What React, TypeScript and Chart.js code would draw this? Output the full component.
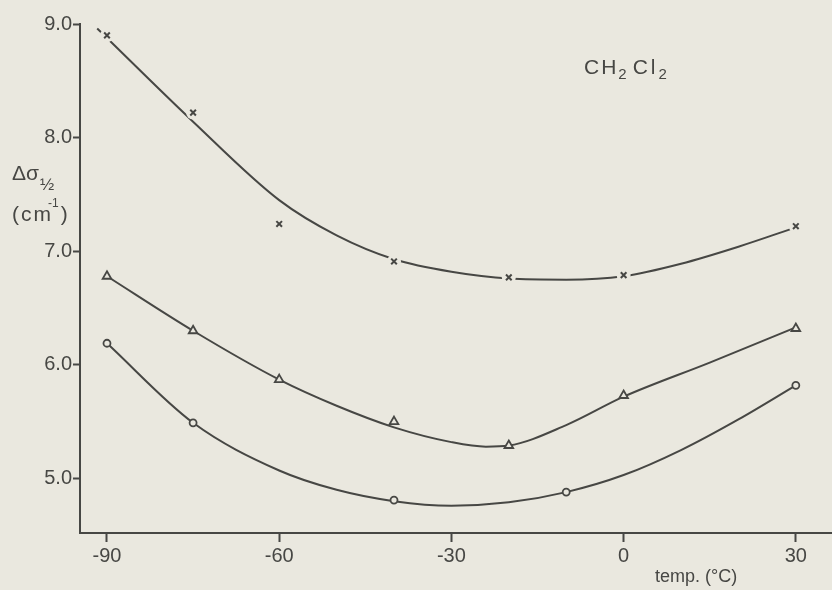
import React, { useEffect, useRef } from 'react';
import { Chart, registerables } from 'chart.js';

Chart.register(...registerables);

// Axis ticks
const xTicks = [-90, -60, -30, 0, 30];
const yTicks = [5, 6, 7, 8, 9];

// Measured points
const crossTemps = [-90, -75, -60, -40, -20, 0, 30];
const crossValues = [8.9, 8.22, 7.24, 6.91, 6.77, 6.79, 7.22];
const triTemps = [-90, -75, -60, -40, -20, 0, 30];
const triValues = [6.78, 6.3, 5.87, 5.5, 5.29, 5.73, 6.32];
const circTemps = [-90, -75, -40, -10, 30];
const circValues = [6.19, 5.49, 4.81, 4.88, 5.82];

// Hand-drawn fitted curves
const crossCurveT = [-91.7, -75, -60, -50, -40, -30, -20, -10, 0, 10, 20, 30];
const crossCurveV = [8.96, 8.14, 7.45, 7.14, 6.93, 6.82, 6.76, 6.75, 6.78, 6.89, 7.04, 7.21];
const triCurveT = [-90, -75, -60, -50, -40, -30, -24, -20, -10, 0, 15, 30];
const triCurveV = [6.78, 6.3, 5.87, 5.64, 5.45, 5.32, 5.28, 5.29, 5.47, 5.72, 6.02, 6.33];
const circCurveT = [-90, -75, -60, -50, -40, -30, -20, -10, 0, 10, 20, 30];
const circCurveV = [6.19, 5.49, 5.07, 4.9, 4.8, 4.76, 4.79, 4.88, 5.03, 5.25, 5.52, 5.82];

const BG = '#eae8df';
const INK = '#474744';
const FONT = '"Liberation Sans", Arial, sans-serif';

const pts = (t: number[], v: number[]) => t.map((x, i) => ({ x, y: v[i] }));

export default function App() {
  const ref = useRef<HTMLCanvasElement | null>(null);

  useEffect(() => {
    document.body.style.margin = '0';
    document.body.style.background = BG;
    const canvas = ref.current;
    if (!canvas) return;

    const bgPlugin = {
      id: 'bg',
      beforeDraw(chart: any) {
        const ctx = chart.ctx;
        ctx.save();
        ctx.fillStyle = BG;
        ctx.fillRect(0, 0, chart.width, chart.height);
        ctx.restore();
      },
    };

    const spaced = (ctx: any, s: string, x: number, y: number, gap: number) => {
      let cx = x;
      for (const ch of s) {
        ctx.fillText(ch, cx, y);
        cx += ctx.measureText(ch).width + gap;
      }
      return cx;
    };

    const textPlugin = {
      id: 'texts',
      afterDraw(chart: any) {
        const ctx = chart.ctx;
        ctx.save();
        ctx.fillStyle = INK;
        ctx.textBaseline = 'alphabetic';
        ctx.textAlign = 'left';
        // CH2Cl2
        let x = 584;
        const by = 74;
        ctx.font = `21px ${FONT}`;
        x = spaced(ctx, 'CH', x, by, 2);
        ctx.font = `15px ${FONT}`;
        x = spaced(ctx, '2', x, by + 5, 6);
        ctx.font = `21px ${FONT}`;
        x = spaced(ctx, 'Cl', x, by, 3);
        ctx.font = `15px ${FONT}`;
        spaced(ctx, '2', x, by + 5, 0);

        // Δσ½
        ctx.font = `21px ${FONT}`;
        ctx.fillText('Δσ', 12, 180);
        const w = ctx.measureText('Δσ').width;
        ctx.font = `17px ${FONT}`;
        ctx.fillText('½', 12 + w + 1, 190);

        // (cm-1)
        let cx = 12;
        ctx.font = `21px ${FONT}`;
        cx = spaced(ctx, '(cm', cx, 221, 2);
        ctx.font = `12px ${FONT}`;
        ctx.fillText('-1', cx - 5, 207);
        cx += ctx.measureText('-1').width - 3;
        ctx.font = `21px ${FONT}`;
        ctx.fillText(')', cx, 221);

        // x title
        ctx.font = `18px ${FONT}`;
        ctx.fillText('temp. (°C)', 655, 582);
        ctx.restore();
      },
    };

    const curveStyle = {
      showLine: true,
      pointRadius: 0,
      borderColor: INK,
      borderWidth: 2,
      cubicInterpolationMode: 'monotone',
      order: 2,
    };

    const chart = new Chart(canvas, {
      type: 'scatter',
      data: {
        datasets: [
          {
            data: pts(crossTemps, crossValues),
            pointStyle: 'crossRot',
            pointRadius: 4,
            pointBorderWidth: 2,
            borderColor: INK,
            backgroundColor: INK,
            order: 0,
          },
          {
            data: pts(crossTemps, crossValues),
            pointStyle: 'circle',
            pointRadius: 7,
            pointBorderWidth: 0,
            borderColor: BG,
            backgroundColor: BG,
            order: 1,
          },
          {
            data: pts(triTemps, triValues),
            pointStyle: 'triangle',
            pointRadius: 5,
            pointBorderWidth: 1.8,
            borderColor: INK,
            backgroundColor: BG,
            order: 0,
          },
          {
            data: pts(circTemps, circValues),
            pointStyle: 'circle',
            pointRadius: 3.5,
            pointBorderWidth: 1.8,
            borderColor: INK,
            backgroundColor: BG,
            order: 0,
          },
          { data: pts(crossCurveT, crossCurveV), ...curveStyle },
          { data: pts(triCurveT, triCurveV), ...curveStyle },
          { data: pts(circCurveT, circCurveV), ...curveStyle },
        ] as any,
      },
      options: {
        animation: false,
        responsive: false,
        devicePixelRatio: 1,
        layout: { autoPadding: false, padding: { top: 24, right: 0, left: 0, bottom: 0 } },
        plugins: {
          legend: { display: false },
          tooltip: { enabled: false },
        },
        scales: {
          x: {
            type: 'linear',
            min: -94.7,
            max: 36.3,
            afterBuildTicks: (s: any) => {
              s.ticks = xTicks.map((v) => ({ value: v }));
            },
            afterFit: (s: any) => {
              s.height = 57;
              s.paddingLeft = 0;
              s.paddingRight = 0;
            },
            ticks: {
              color: INK,
              font: { family: FONT, size: 20 },
              padding: 2,
              callback: (v: any) => String(v),
            },
            grid: {
              drawOnChartArea: false,
              drawTicks: true,
              tickLength: 9,
              tickWidth: 2,
              tickColor: INK,
            },
            border: { display: true, color: INK, width: 2 },
          },
          y: {
            type: 'linear',
            min: 4.52,
            max: 9.0,
            afterBuildTicks: (s: any) => {
              s.ticks = yTicks.map((v) => ({ value: v }));
            },
            afterFit: (s: any) => {
              s.width = 80;
              s.paddingTop = 0;
              s.paddingBottom = 0;
            },
            ticks: {
              color: INK,
              font: { family: FONT, size: 20 },
              padding: 1,
              callback: (v: any) => Number(v).toFixed(1),
            },
            grid: {
              drawOnChartArea: false,
              drawTicks: true,
              tickLength: 7,
              tickWidth: 2,
              tickColor: INK,
            },
            border: { display: true, color: INK, width: 2 },
          },
        },
      } as any,
      plugins: [bgPlugin, textPlugin],
    });

    return () => chart.destroy();
  }, []);

  return (
    <div style={{ width: 832, height: 590, background: BG }}>
      <canvas ref={ref} width={832} height={590} style={{ display: 'block' }} />
    </div>
  );
}
